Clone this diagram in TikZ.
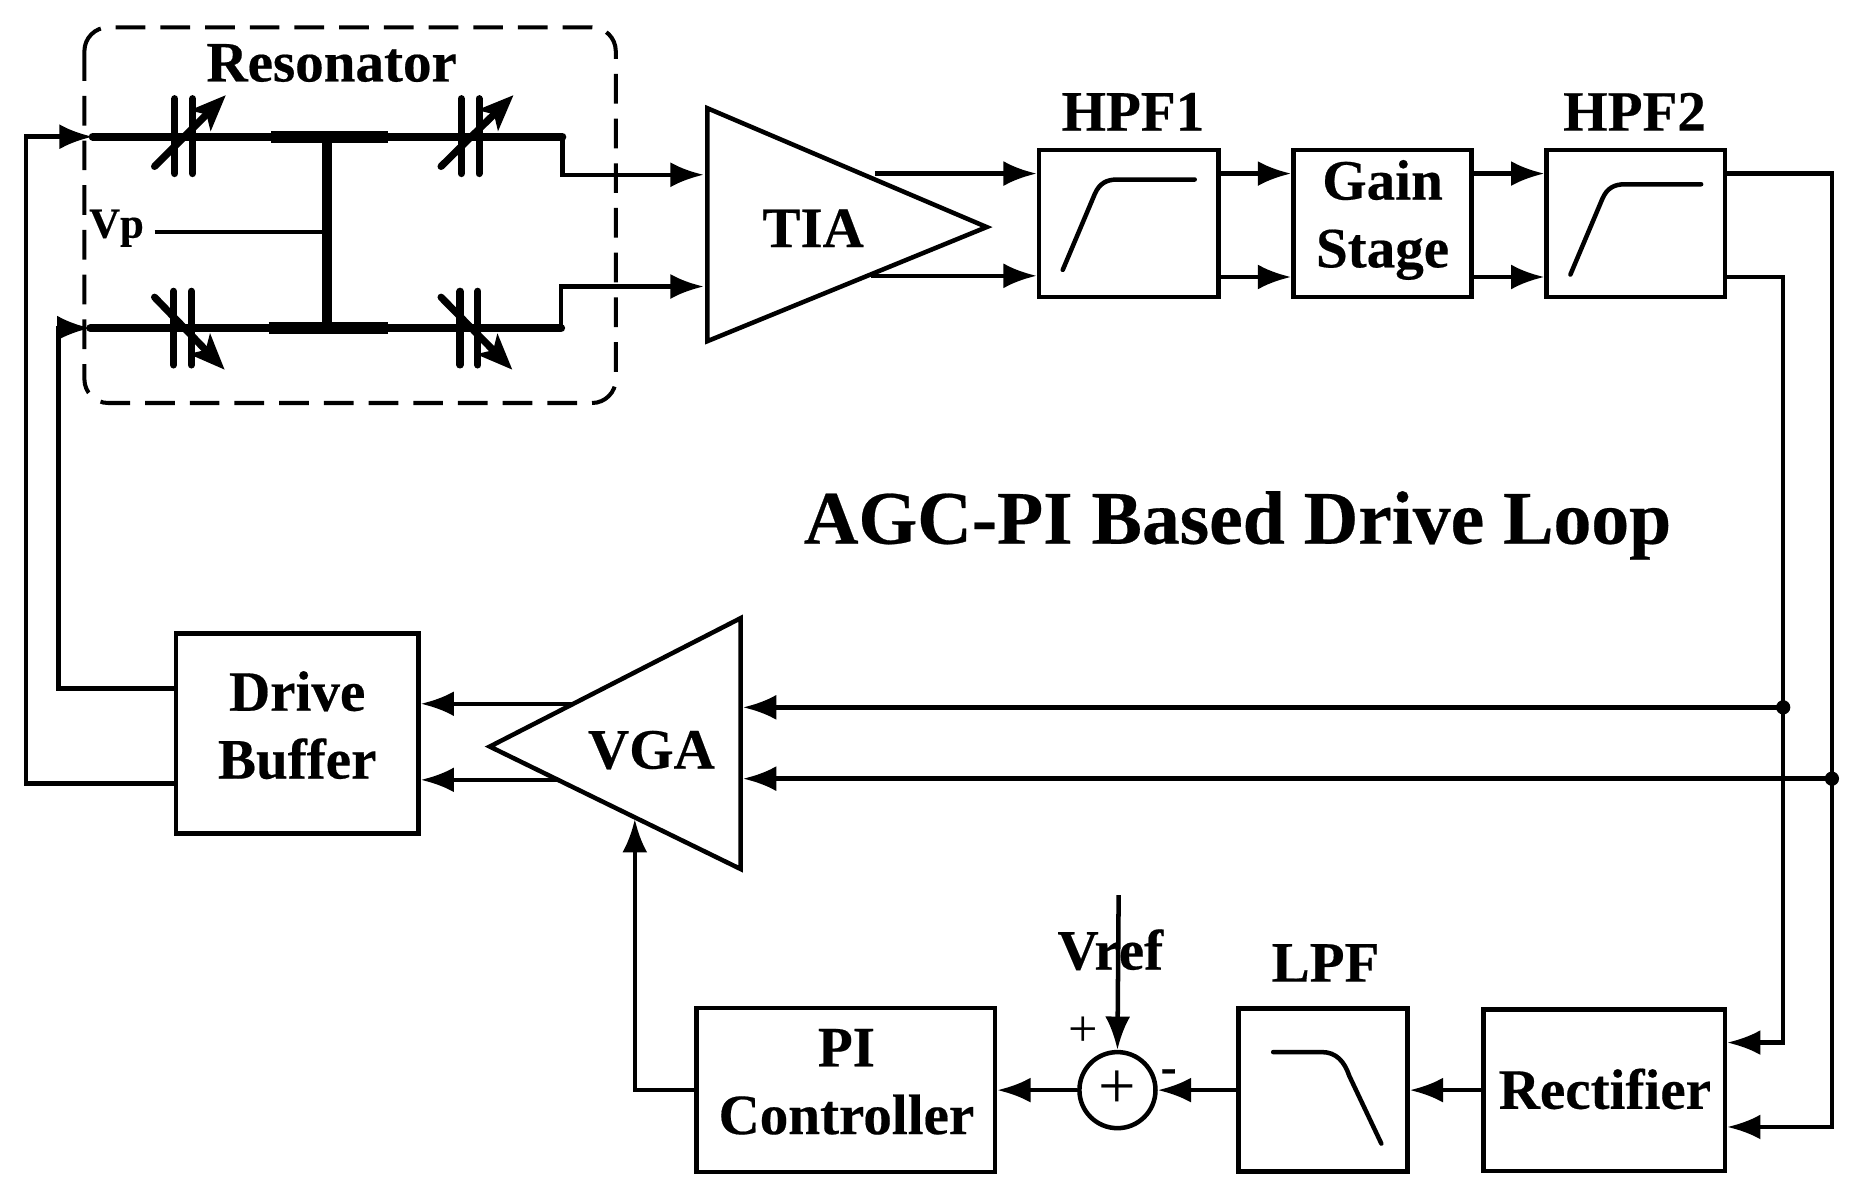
\documentclass[tikz,border=0pt]{standalone}
\usepackage{fontspec}
\setmainfont{Liberation Serif}[BoldFeatures={FakeBold=0.35}]
\usetikzlibrary{arrows.meta,calc}
\tikzset{
  wire/.style={line width=1.9pt,line join=miter},
  arr/.style={wire,-{Latex[length=14pt,width=10.5pt]}},
  heavy/.style={line width=3.4pt,line cap=round},
  bar/.style={line width=5pt},
  plate/.style={line width=3pt,line cap=round},
  tune/.style={line width=3pt,line cap=round,-{Stealth[length=15pt,width=12pt,inset=3.5pt]}},
  box/.style={draw,line width=1.9pt,inner sep=0pt},
  lbl/.style={font=\bfseries\fontsize{24}{28.5}\selectfont,inner sep=0pt,align=center},
  curve/.style={line width=1.9pt,line cap=round},
}
\begin{document}
\begin{tikzpicture}[x=.5pt,y=-.5pt]
\useasboundingbox (0,0) rectangle (1568,1008.6);
% resonator frame
\draw[line width=1.7pt,dash pattern=on 12.5pt off 6.3pt,rounded corners=10pt] (71,23) rectangle (518,339);
\node[lbl] (reslbl) at (279,53) {Resonator};
% junctions of the resonator
\coordinate (tl) at (78,115);
\coordinate (tm1) at (228,115);
\coordinate (tm2) at (326,115);
\coordinate (tr) at (473,115);
\coordinate (bl) at (76,276);
\coordinate (bm1) at (226,276);
\coordinate (bm2) at (326,276);
\coordinate (br) at (472,276);
\coordinate (bt) at (275,115);
\coordinate (bb) at (275,276);
\coordinate (vpj) at (275,195);
\coordinate (vps) at (130,195);
\draw[heavy] (tl) -- (tr);
\draw[heavy] (bl) -- (br);
\draw[bar] (tm1) -- (tm2);
\draw[bar] (bm1) -- (bm2);
\draw[line width=4pt] (bt) -- (bb);
\draw[wire] (vps) -- (vpj);
\node[font=\bfseries\fontsize{18}{20}\selectfont,inner sep=0pt] (vp) at (98,192) {Vp};
% variable capacitors
\foreach \xa/\xb in {147/162,388/403}{
  \draw[plate] (\xa,83) -- (\xa,146);
  \draw[plate] (\xb,83) -- (\xb,146);
}
\foreach \xa/\xb in {146/161,387/402}{
  \draw[plate] (\xa,245) -- (\xa,307);
  \draw[plate] (\xb,245) -- (\xb,307);
}
\draw[tune] (130,140) -- (190,80);
\draw[tune] (371,140) -- (432,80);
\draw[tune] (130,250) -- (189,311);
\draw[tune] (371,250) -- (431,311);
% amplifiers
\coordinate (tiaa) at (595,91);
\coordinate (tiab) at (595,287);
\coordinate (tiac) at (830,191);
\draw[line width=1.9pt,line join=miter] (tiaa) -- (tiac) -- (tiab) -- cycle;
\node[lbl] (tia) at (684,192) {TIA};
\coordinate (vgaa) at (623,520);
\coordinate (vgab) at (623,731);
\coordinate (vgac) at (412,628);
\draw[line width=1.9pt,line join=miter] (vgaa) -- (vgac) -- (vgab) -- cycle;
\node[lbl] (vga) at (548,631) {VGA};
% blocks
\node[box,minimum width=75.5pt,minimum height=62pt] (hpf1) at (949.5,188) {};
\node[lbl] (hpf1l) at (953,94) {HPF1};
\node[box,minimum width=75pt,minimum height=62pt] (gain) at (1163,188) {};
\node[lbl] (gaint) at (1163,185) {Gain\\Stage};
\node[box,minimum width=75pt,minimum height=62pt] (hpf2) at (1376,188) {};
\node[lbl] (hpf2l) at (1375,94) {HPF2};
\node[box,minimum width=102pt,minimum height=84pt] (drv) at (250,617) {};
\node[lbl] (drvt) at (250,610) {Drive\\Buffer};
\node[box,minimum width=125.5pt,minimum height=69pt] (pi) at (711.5,917) {};
\node[lbl] (pit) at (712,910) {PI\\Controller};
\node[draw,circle,line width=1.9pt,minimum size=32pt,inner sep=0pt,font=\fontsize{28}{28}\selectfont] (sum) at (940,917) {+};
\node[box,minimum width=71pt,minimum height=68.5pt] (lpf) at (1113,917) {};
\node[lbl] (lpfl) at (1115,810) {LPF};
\node[box,minimum width=101.5pt,minimum height=68pt] (rect) at (1349.5,917) {};
\node[lbl] (rectt) at (1350,916) {Rectifier};
% filter curves
\draw[curve] (894,227) -- (921,163) .. controls (925,154) and (931,151) .. (940,151) -- (1005,151);
\draw[curve] (1321,231) -- (1348,167) .. controls (1352,158) and (1358,155) .. (1367,155) -- (1431,155);
\draw[curve] (1071,885) -- (1112,885) .. controls (1124,885) and (1131,893) .. (1135,905) -- (1162,962);
% forward path
\coordinate (tup) at (473,147);
\coordinate (tdn) at (472,241);
\draw[arr] (tr) -- (tup) -- ($(tup -| tiaa)+(-3,0)$);
\draw[arr] (br) -- (tdn) -- ($(tdn -| tiaa)+(-3,0)$);
\coordinate (lev1) at (0,146);
\coordinate (lev2) at (0,233);
\coordinate (tiau) at (736,146);
\coordinate (tiad) at (733,232);
\draw[arr] (tiau) -- (hpf1.west |- tiau);
\draw[arr] (tiad) -- (hpf1.west |- tiad);
\draw[arr] (hpf1.east |- lev1) -- (gain.west |- lev1);
\draw[arr] (hpf1.east |- lev2) -- (gain.west |- lev2);
\draw[arr] (gain.east |- lev1) -- (hpf2.west |- lev1);
\draw[arr] (gain.east |- lev2) -- (hpf2.west |- lev2);
% feedback rails
\coordinate (railo) at (1541,146);
\coordinate (raili) at (1500,233);
\coordinate (doti) at (1500,595);
\coordinate (doto) at (1541,655);
\coordinate (recti) at (1500,877);
\coordinate (recto) at (1541,948);
\draw[arr] (hpf2.east |- railo) -- (railo) -- (recto) -- (rect.east |- recto);
\draw[arr] (hpf2.east |- raili) -- (raili) -- (recti) -- (rect.east |- recti);
\fill (doti) circle (3pt);
\fill (doto) circle (3pt);
\draw[arr] (doti) -- ($(doti -| vgaa)+(2,0)$);
\draw[arr] (doto) -- ($(doto -| vgaa)+(2,0)$);
\coordinate (vgau) at (483,592);
\coordinate (vgad) at (470,656);
\draw[arr] (vgau) -- (drv.east |- vgau);
\draw[arr] (vgad) -- (drv.east |- vgad);
% back to resonator
\coordinate (drvu) at (148,579);
\coordinate (drvd) at (148,659);
\coordinate (lefti) at (49,579);
\coordinate (lefto) at (22,659);
\draw[arr] (drvu) -- (lefti) -- (lefti |- bl) -- (bl);
\draw[arr] (drvd) -- (lefto) -- (lefto |- tl) -- (tl);
% bottom row
\draw[arr] (rect.west) -- (lpf.east);
\draw[arr] (lpf.west) -- (sum.east);
\draw[arr] (sum.west) -- (pi.east);
\coordinate (vgain) at (534,689);
\draw[arr] (pi.west) -- (pi.west -| vgain) -- (vgain);
\coordinate (vrefs) at (941,753);
\draw[arr] (vrefs) -- (sum.north);
\node[lbl] (vref) at (934,799) {Vref};
\node[font=\fontsize{22}{22}\selectfont,inner sep=0pt] (plus) at (911,868) {+};
\node[font=\bfseries\fontsize{20}{20}\selectfont,inner sep=0pt] (minus) at (983,905) {-};
% title
\node[font=\bfseries\fontsize{31.8}{36}\selectfont,inner sep=0pt] (title) at (1041,442) {AGC-PI Based Drive Loop};
\end{tikzpicture}
\end{document}
